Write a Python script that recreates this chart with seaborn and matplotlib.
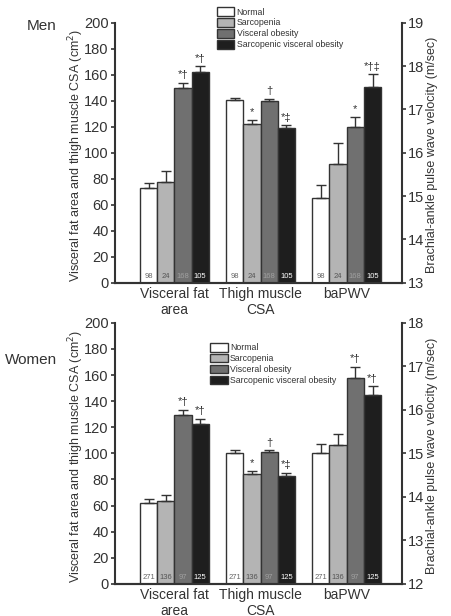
import numpy as np
import pandas as pd
import matplotlib
matplotlib.use("Agg")
import matplotlib.pyplot as plt
import matplotlib.transforms as mtransforms
from matplotlib.patches import Patch
import seaborn as sns

measures = ["Visceral fat\narea", "Thigh muscle\nCSA", "baPWV"]
groups = ["Normal", "Sarcopenia", "Visceral obesity", "Sarcopenic visceral obesity"]
colors = ["#ffffff", "#b4b4b4", "#707070", "#1e1e1e"]
n_colors = ["#666666", "#555555", "#a0a0a0", "#ffffff"]

# Men
men_vfa = [73, 77.5, 150, 162]
men_vfa_err = [4, 8.5, 4, 4.5]
men_thigh = [140.5, 122, 140, 119]
men_thigh_err = [1.5, 3, 1.5, 2]
men_pwv = [14.95, 15.75, 16.6, 17.51]
men_pwv_err = [0.31, 0.47, 0.22, 0.30]
men_n = [98, 24, 168, 105]
men_marks = [["", "", "*†", "*†"], ["", "*", "†", "*‡"], ["", "", "*", "*†‡"]]

# Women
women_vfa = [61.8, 63.5, 129.6, 122.5]
women_vfa_err = [3, 4.5, 3.8, 4]
women_thigh = [100.3, 84.4, 100.8, 82.9]
women_thigh_err = [2.3, 2.3, 1.5, 2.3]
women_pwv = [15.01, 15.19, 16.74, 16.34]
women_pwv_err = [0.21, 0.25, 0.25, 0.2]
women_n = [271, 136, 97, 125]
women_marks = [["", "", "*†", "*†"], ["", "*", "†", "*‡"], ["", "", "*†", "*†"]]

sns.set_style("ticks")
plt.rcParams["font.family"] = ["Liberation Sans", "DejaVu Sans"]
plt.rcParams["axes.edgecolor"] = "#333333"
plt.rcParams["xtick.color"] = "#333333"
plt.rcParams["ytick.color"] = "#333333"
plt.rcParams["text.color"] = "#333333"

ink = "#333333"


def long_df(vals, errs, ns, marks, which):
    rows = []
    for mi, m in enumerate(measures):
        if (m == "baPWV") != (which == "right"):
            continue
        for gi, g in enumerate(groups):
            rows.append(dict(measure=m, group=g, value=vals[mi][gi], err=errs[mi][gi],
                             n=ns[gi], mark=marks[mi][gi]))
    return pd.DataFrame(rows)


def panel(ax, vals, errs, ns, marks, rlim, leg_anchor):
    ax2 = ax.twinx()
    for a, which in [(ax, "left"), (ax2, "right")]:
        df = long_df(vals, errs, ns, marks, which)
        sns.barplot(data=df, x="measure", y="value", hue="group", order=measures,
                    hue_order=groups, palette=colors, edgecolor=ink, linewidth=1,
                    errorbar=None, width=0.8, legend=False, ax=a)
        bar_conts = list(a.containers)
        tr = mtransforms.blended_transform_factory(a.transData, a.transAxes)
        for gi, cont in enumerate(bar_conts):
            sub = df[df.group == groups[gi]]
            bars = [b for b in cont if np.isfinite(b.get_height()) and b.get_height() > 0]
            for bar, (_, row) in zip(bars, sub.iterrows()):
                xc = bar.get_x() + bar.get_width() / 2
                a.errorbar(xc, row.value, yerr=[[0], [row.err]], fmt="none",
                           ecolor=ink, elinewidth=1, capsize=3.5, capthick=1)
                a.text(xc, 0.012, str(row.n), transform=tr, ha="center", va="bottom",
                       fontsize=5.5, color=n_colors[gi])
                if row.mark:
                    a.annotate(row.mark, (xc, row.value + row.err), xytext=(0, 2),
                               textcoords="offset points", ha="center", va="bottom",
                               fontsize=8, color=ink)
    ax.set_ylim(0, 200)
    ax.set_yticks(np.arange(0, 201, 20))
    ax2.set_ylim(*rlim)
    ax2.set_yticks(np.arange(rlim[0], rlim[1] + 1, 1))
    ax.set_xlim(-0.69, 2.64)
    for a in (ax, ax2):
        a.spines["top"].set_visible(False)
        for s in a.spines.values():
            s.set_linewidth(1.5)
        a.tick_params(axis="y", labelsize=10.5, width=1.2, length=3, pad=1.5)
        a.set_xlabel("")
    ax2.spines["left"].set_visible(False)
    ax2.spines["right"].set_visible(True)
    ax.spines["right"].set_visible(False)
    ax.tick_params(axis="x", length=0, labelsize=10, pad=3)
    ax.set_ylabel("Visceral fat area and thigh muscle CSA (cm$^2$)", fontsize=9, color=ink)
    ax.yaxis.set_label_coords(-0.1, 0.49)
    ax2.set_ylabel("Brachial-ankle pulse wave velocity (m/sec)", fontsize=9, color=ink)
    ax2.yaxis.set_label_coords(1.085, 0.49)
    handles = [Patch(facecolor=c, edgecolor=ink, linewidth=1) for c in colors]
    ax.legend(handles, groups, loc="upper left", bbox_to_anchor=leg_anchor,
              bbox_transform=ax.figure.transFigure, frameon=False, fontsize=6.3,
              handlelength=2.0, handleheight=1.1, labelspacing=0.2,
              handletextpad=0.25, borderpad=0, borderaxespad=0)


fig = plt.figure(figsize=(4.51, 6.16), dpi=100)
ax_m = fig.add_axes([0.255, 0.541, 0.636, 0.422])
ax_w = fig.add_axes([0.255, 0.052, 0.636, 0.424])

panel(ax_m, [men_vfa, men_thigh, men_pwv], [men_vfa_err, men_thigh_err, men_pwv_err],
      men_n, men_marks, (13, 19), (0.481, 0.988))
panel(ax_w, [women_vfa, women_thigh, women_pwv], [women_vfa_err, women_thigh_err, women_pwv_err],
      women_n, women_marks, (12, 18), (0.466, 0.443))

fig.text(0.06, 0.958, "Men", fontsize=11, va="center", ha="left")
fig.text(0.01, 0.416, "Women", fontsize=11, va="center", ha="left")

fig.savefig("out.png", dpi=100)
